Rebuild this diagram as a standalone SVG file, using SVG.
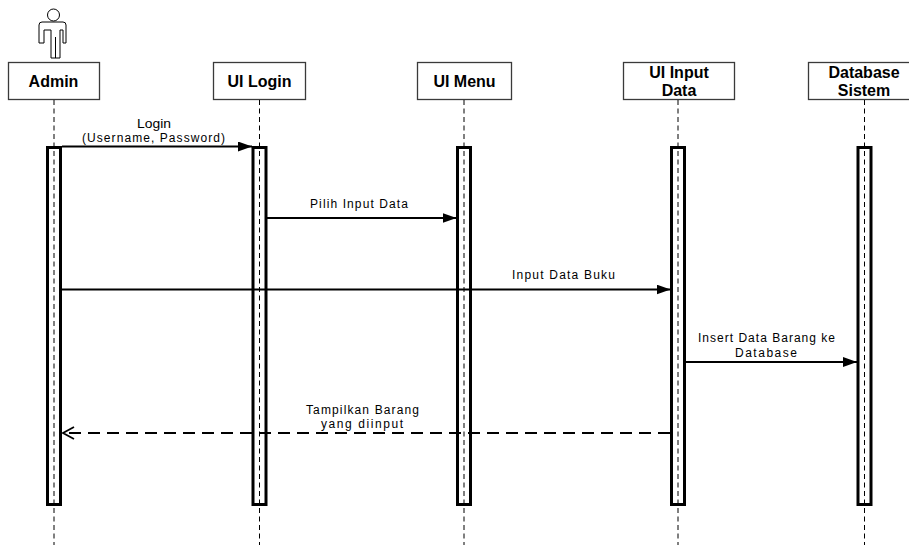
<svg xmlns="http://www.w3.org/2000/svg" width="909" height="545" viewBox="0 0 909 545">
<style>
.box{fill:#fff;stroke:#3a3a3a;stroke-width:1.3}
.hd{font-family:"Liberation Sans",Arial,sans-serif;font-weight:bold;font-size:16px;fill:#000;text-anchor:middle}
.life{stroke:#000;stroke-width:1;stroke-dasharray:5,3.5;fill:none}
.bar{fill:#fff;stroke:#000;stroke-width:3}
.msg{stroke:#000;stroke-width:2;fill:none}
.ret{stroke:#000;stroke-width:2;fill:none;stroke-dasharray:12,7}
.lbl{font-family:"Liberation Sans",Arial,sans-serif;font-size:12px;fill:#000;text-anchor:middle}
.actor{fill:#fff;stroke:#000;stroke-width:1}
</style>
<defs>
<marker id="filled" markerWidth="14" markerHeight="10" refX="14" refY="5" orient="auto" markerUnits="userSpaceOnUse">
<path d="M0,0 L14,5 L0,10 Z" fill="#000"/>
</marker>
<marker id="open" markerWidth="14" markerHeight="14" refX="12" refY="7" orient="auto" markerUnits="userSpaceOnUse">
<path d="M1,1 L12,7 L1,13" fill="none" stroke="#000" stroke-width="1.8"/>
</marker>
</defs>
<rect width="909" height="545" fill="#fff"/>

<g id="admin">
<circle class="actor" cx="53.5" cy="15" r="6"/>
<path class="actor" d="M39,25 Q39,22 42,22 H63 Q66,22 66,25 V43 H63 V30 H60 V58 H51 V30 H44 V43 H39 Z M55.5,37 V58"/>
<rect class="box" x="8.5" y="62.5" width="91" height="37"/>
<text class="hd" x="53.5" y="87">Admin</text>
<rect class="bar" x="47.5" y="147.5" width="13" height="357"/>
<line class="life" x1="54" y1="100" x2="54" y2="545"/>
</g>

<g id="ui-login">
<rect class="box" x="213.5" y="62.5" width="92" height="37"/>
<text class="hd" x="259.5" y="87">UI Login</text>
<rect class="bar" x="253" y="147.5" width="13" height="357"/>
<line class="life" x1="259.5" y1="100" x2="259.5" y2="545"/>
</g>

<g id="ui-menu">
<rect class="box" x="417.5" y="62.5" width="94" height="37"/>
<text class="hd" x="464.5" y="87">UI Menu</text>
<rect class="bar" x="457.5" y="147.5" width="13" height="357"/>
<line class="life" x1="464" y1="100" x2="464" y2="545"/>
</g>

<g id="ui-input-data">
<rect class="box" x="623.5" y="62.5" width="111" height="37"/>
<text class="hd" x="679" y="78">UI Input</text>
<text class="hd" x="679" y="96">Data</text>
<rect class="bar" x="671.5" y="147.5" width="13" height="357"/>
<line class="life" x1="678" y1="100" x2="678" y2="545"/>
</g>

<g id="database-sistem">
<rect class="box" x="808.5" y="62.5" width="111" height="37"/>
<text class="hd" x="864" y="78">Database</text>
<text class="hd" x="864" y="96">Sistem</text>
<rect class="bar" x="858" y="147.5" width="13" height="357"/>
<line class="life" x1="864.5" y1="100" x2="864.5" y2="545"/>
</g>

<g id="connectors">
<line class="msg" x1="62" y1="146.5" x2="252" y2="146.5" marker-end="url(#filled)"/>
<text class="lbl" x="154" y="128" textLength="34" lengthAdjust="spacingAndGlyphs">Login</text>
<text class="lbl" x="153.5" y="142" textLength="143" lengthAdjust="spacing">(Username, Password)</text>

<line class="msg" x1="266" y1="218" x2="456.5" y2="218" marker-end="url(#filled)"/>
<text class="lbl" x="359" y="208" textLength="98" lengthAdjust="spacing">Pilih Input Data</text>

<line class="msg" x1="62" y1="289.5" x2="670.5" y2="289.5" marker-end="url(#filled)"/>
<text class="lbl" x="563.5" y="279" textLength="103" lengthAdjust="spacing">Input Data Buku</text>

<line class="msg" x1="685" y1="362" x2="857" y2="362" marker-end="url(#filled)"/>
<text class="lbl" x="766.5" y="342" textLength="137" lengthAdjust="spacing">Insert Data Barang ke</text>
<text class="lbl" x="766" y="357" textLength="62" lengthAdjust="spacing">Database</text>

<line class="ret" x1="670" y1="433" x2="63" y2="433" marker-end="url(#open)"/>
<text class="lbl" x="362.5" y="414" font-size="12.5" textLength="113" lengthAdjust="spacing">Tampilkan Barang</text>
<text class="lbl" x="362" y="428" font-size="12.5" textLength="82" lengthAdjust="spacing">yang diinput</text>
</g>
</svg>
